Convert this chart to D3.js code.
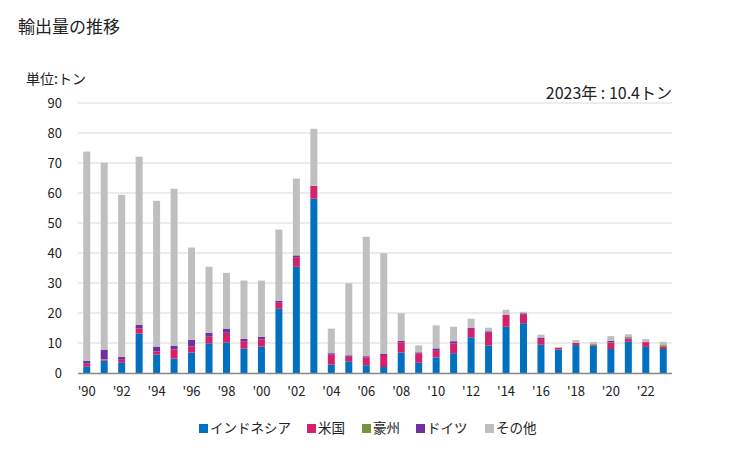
<!DOCTYPE html>
<html><head><meta charset="utf-8">
<script src="https://cdn.jsdelivr.net/npm/d3@7"></script>
<style>body{margin:0;background:#fff}svg{display:block}text{font-family:"Noto Sans CJK JP","Noto Sans",sans-serif;fill:#222}</style>
</head><body><svg id="c" width="729" height="450"></svg>
<script>
const years = d3.range(1990, 2024);
const indonesia = [2.1,4.1,3.4,13.1,6.1,4.8,6.8,9.9,10.1,8.1,8.8,21.4,35.4,58.1,2.8,3.9,2.6,2.0,6.8,3.4,5.2,6.6,11.9,9.2,15.4,16.6,9.4,7.8,9.3,9.1,8.0,10.4,8.7,8.0];
const usa       = [1.0,0.3,1.0,1.7,1.1,3.1,2.0,2.2,3.3,2.5,2.4,2.0,3.2,4.3,3.3,1.5,2.6,4.0,3.4,3.2,2.2,3.3,2.8,4.2,4.0,2.8,1.9,0.6,0.7,0.3,2.0,0.9,1.6,0.7];
const australia = [0,0.2,0,0,0,0,0,0,0,0,0,0,0,0,0,0,0,0,0,0,0,0,0,0,0,0,0,0,0,0.4,0.3,0.3,0,0.6];
const germany   = [1.0,3.2,1.0,1.3,1.6,1.2,2.3,1.3,1.4,0.8,0.9,0.7,0.6,0,0.5,0.5,0.4,0.4,0.5,0.3,0.8,0.7,0.4,0.5,0,0.5,0.5,0,0,0,0.4,0.3,0,0];
const others    = [69.7,62.3,54.0,56.0,48.6,52.3,30.7,22.0,18.6,19.4,18.7,23.7,25.6,19.0,8.2,24.0,39.8,33.5,9.2,2.3,7.7,4.8,3.0,1.2,1.7,0.5,1.0,0.3,1.0,0.5,1.6,1.0,1.0,1.1];
const seriesNames = ["インドネシア","米国","豪州","ドイツ","その他"];
const seriesColors = ["#0070C0","#D6206A","#77933C","#7030A0","#BFBFBF"];
const yTicks = [0,10,20,30,40,50,60,70,80,90];
const xTickYears = years.filter(y => y % 2 === 0);

const svg = d3.select("#c");
const m = {l:78, r:672, t:103, b:373};
const x = d3.scaleBand().domain(years).range([m.l, m.r]).paddingInner(0.6).paddingOuter(0.3);
const y = d3.scaleLinear().domain([0,90]).range([m.b, m.t]);

const rows = years.map((yr,i)=>({year:yr, s0:indonesia[i], s1:usa[i], s2:australia[i], s3:germany[i], s4:others[i]}));
const stack = d3.stack().keys(["s0","s1","s2","s3","s4"])(rows);

// grid
svg.append("g").selectAll("line").data(yTicks.filter(t=>t>0)).join("line")
  .attr("x1", m.l).attr("x2", m.r).attr("y1", d=>y(d)).attr("y2", d=>y(d))
  .attr("stroke","#d9d9d9").attr("stroke-width",1);

// y axis labels
const ya = svg.append("g").attr("transform",`translate(${m.l},0)`)
  .call(d3.axisLeft(y).tickValues(yTicks).tickSize(0).tickPadding(16));
ya.select(".domain").remove();
ya.selectAll("text").style("font-size","13px").style("font-family","'Noto Sans CJK JP',sans-serif").attr("fill","#222");

// bars
svg.append("g").selectAll("g").data(stack).join("g")
  .attr("fill",(d,i)=>seriesColors[i])
  .selectAll("rect").data(d=>d).join("rect")
  .attr("x", d=>x(d.data.year)).attr("width", x.bandwidth())
  .attr("y", d=>y(d[1])).attr("height", d=>Math.max(0, y(d[0])-y(d[1])));

// baseline
svg.append("line").attr("x1",m.l).attr("x2",m.r).attr("y1",m.b+0.5).attr("y2",m.b+0.5).attr("stroke","#898989").attr("stroke-width",1.5);

// x axis
const xa = svg.append("g").attr("transform",`translate(0,${m.b})`)
  .call(d3.axisBottom(x).tickValues(xTickYears).tickSize(0).tickPadding(14).tickFormat(d=>"'"+String(d).slice(2)));
xa.select(".domain").remove();
xa.selectAll("text").style("font-size","13px").style("font-family","'Noto Sans CJK JP',sans-serif").attr("fill","#222");

// titles
svg.append("text").attr("x",18).attr("y",33).style("font-size","17px").text("輸出量の推移");
svg.append("text").attr("x",26).attr("y",84).style("font-size","14px").text("単位:トン");
svg.append("text").attr("x",672).attr("y",99).attr("text-anchor","end").style("font-size","16px").text("2023年 : 10.4トン");

// legend
const legX = [199,307,362,416,485];
const lg = svg.append("g").selectAll("g").data(seriesNames).join("g")
  .attr("transform",(d,i)=>`translate(${legX[i]},424)`);
lg.append("rect").attr("width",9).attr("height",9).attr("fill",(d,i)=>seriesColors[i]);
lg.append("text").attr("x",11).attr("y",9).style("font-size","13.5px").text(d=>d);
</script></body></html>
